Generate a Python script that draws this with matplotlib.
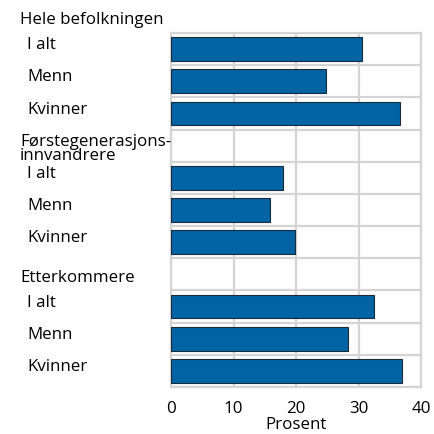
import matplotlib
matplotlib.use("Agg")
import matplotlib.pyplot as plt
import matplotlib.transforms as mtransforms
import numpy as np

plt.rcParams['font.family'] = ['Open Sans', 'DejaVu Sans']

# rows from top; headers have no value
labels = ["Hele befolkningen", "I alt", "Menn", "Kvinner",
          "Førstegenerasjons-\ninnvandrere", "I alt", "Menn", "Kvinner",
          "Etterkommere", "I alt", "Menn", "Kvinner"]
is_header = [True, False, False, False,
             True, False, False, False,
             True, False, False, False]
values = [None, 30.6, 24.8, 36.7,
          None, 17.9, 15.8, 19.9,
          None, 32.5, 28.3, 37.0]

bar_col = '#0064a4'
edge_col = '#1c2b3a'
grid_col = '#d4d4d4'
fs = 12.2

fig = plt.figure(figsize=(4.34, 4.34), dpi=100)
ax = fig.add_axes([171/434, 1-387/434, 250/434, 354/434])

rows = np.arange(len(labels)) - 1  # first header sits above the axes
for r, v in zip(rows, values):
    if v is not None:
        ax.barh(r, v, height=0.74, color=bar_col, edgecolor=edge_col,
                linewidth=0.8, zorder=3)

ax.set_xlim(0, 40)
ax.set_ylim(rows[-1] + 0.5, -0.5)
ax.set_xticks([0, 10, 20, 30, 40])
ax.set_yticks(np.arange(-0.5, rows[-1] + 1, 1))
ax.set_yticklabels([])
ax.tick_params(length=0, labelsize=fs, pad=10)
ax.grid(True, color=grid_col, linewidth=1.6, zorder=0)
for s in ax.spines.values():
    s.set_color(grid_col)
    s.set_linewidth(1.6)
ax.set_xlabel("Prosent", fontsize=fs, labelpad=0)

trans = mtransforms.blended_transform_factory(fig.transFigure, ax.transData)
for r, lab, h in zip(rows, labels, is_header):
    x = 20/434 if h else 27/434
    dy = 0.1 if h else -0.12
    ax.text(x, r + dy, lab, transform=trans, ha='left', va='center',
            fontsize=fs, linespacing=0.8, clip_on=False)

fig.savefig("out.png", dpi=100)
